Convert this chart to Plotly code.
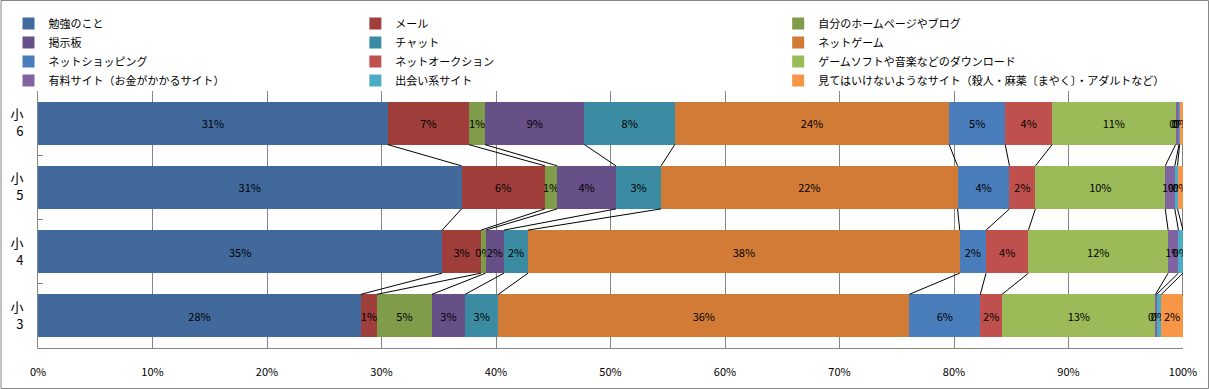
import plotly.graph_objects as go

categories = ["小3", "小4", "小5", "小6"]
tick_labels = ["小<br>3", "小<br>4", "小<br>5", "小<br>6"]

series_names = [
    "勉強のこと", "メール", "自分のホームページやブログ",
    "掲示板", "チャット", "ネットゲーム",
    "ネットショッピング", "ネットオークション", "ゲームソフトや音楽などのダウンロード",
    "有料サイト（お金がかかるサイト）", "出会い系サイト",
    "見てはいけないようなサイト（殺人・麻薬〔まやく〕・アダルトなど）",
]

# values per category: 小3, 小4, 小5, 小6
v_study = [28.2, 35.3, 31.0, 30.6]
v_mail = [1.4, 3.4, 6.1, 7.1]
v_homepage = [4.8, 0.4, 0.9, 1.4]
v_bbs = [2.9, 1.6, 4.3, 8.7]
v_chat = [2.9, 2.1, 3.3, 7.9]
v_netgame = [35.9, 37.7, 21.7, 24.0]
v_shopping = [6.2, 2.3, 3.8, 4.9]
v_auction = [1.9, 3.7, 1.9, 4.1]
v_download = [13.4, 12.2, 9.5, 10.8]
v_paid = [0.1, 0.9, 0.7, 0.3]
v_dating = [0.4, 0.4, 0.2, 0.05]
v_harmful = [1.9, 0.0, 0.4, 0.3]

series_values = [v_study, v_mail, v_homepage, v_bbs, v_chat, v_netgame,
                 v_shopping, v_auction, v_download, v_paid, v_dating, v_harmful]

colors = ["#41699C", "#9F3E3B", "#7F9C4A", "#674F87", "#3B8CA2", "#D17B37",
          "#4A7DBB", "#C0504D", "#9BBB59", "#8064A2", "#4BACC6", "#F79646"]

FONT = "Noto Sans CJK JP"
BARGAP = 0.33
ypos = list(range(len(categories)))

fig = go.Figure()
legends = ["legend", "legend2", "legend3"]
for i, (name, vals) in enumerate(zip(series_names, series_values)):
    fig.add_trace(go.Bar(
        y=ypos, x=vals, orientation="h", name=name,
        marker=dict(color=colors[i], line=dict(width=0)),
        text=[f"{round(v)}%" for v in vals],
        textposition="inside", insidetextanchor="middle", textangle=0,
        textfont=dict(family=FONT, size=11, color="#000000"),
        legend=legends[i % 3], legendgroup=f"g{i}",
        hoverinfo="name+x",
    ))

# series lines (connect segment ends between adjacent bars), computed from data
totals = [sum(s[c] for s in series_values) for c in range(len(categories))]
cum = []
for c in range(len(categories)):
    acc = 0.0
    row = []
    for s in series_values:
        acc += s[c] / totals[c] * 100
        row.append(acc)
    cum.append(row)
h = (1 - BARGAP) / 2
lx, ly = [], []
for c in range(len(categories) - 1, 0, -1):
    for k in range(len(series_values)):
        lx += [cum[c][k], cum[c - 1][k], None]
        ly += [ypos[c] - h, ypos[c - 1] + h, None]
fig.add_trace(go.Scatter(x=lx, y=ly, mode="lines", line=dict(color="#000000", width=1),
                         showlegend=False, hoverinfo="skip"))

ML, MR, MT, MB = 37.5, 26, 91, 41
W, H = 1209, 389
pw, ph = W - ML - MR, H - MT - MB

def px_x(p):
    return (p - ML) / pw

def px_y(p):
    return 1 - (p - MT) / ph

leg_common = dict(orientation="v", xanchor="left", yanchor="top", bgcolor="rgba(0,0,0,0)",
                  font=dict(family=FONT, size=11, color="#000000"), tracegroupgap=3,
                  itemwidth=30, traceorder="normal")
fig.update_layout(
    width=W, height=H,
    margin=dict(l=ML, r=MR, t=MT, b=MB, pad=0, autoexpand=False),
    paper_bgcolor="white", plot_bgcolor="white",
    barmode="stack", barnorm="percent", bargap=BARGAP,
    uniformtext=dict(minsize=11, mode="show"),
    showlegend=True,
    legend=dict(x=px_x(8), y=px_y(9), **leg_common),
    legend2=dict(x=px_x(355), y=px_y(9), **leg_common),
    legend3=dict(x=px_x(778), y=px_y(9), **leg_common),
    xaxis=dict(range=[0, 100], dtick=10, tick0=0, ticksuffix="%", showgrid=True,
               gridcolor="#868686", gridwidth=1, zeroline=False, showline=True,
               linecolor="#868686", linewidth=1, ticks="", ticklabelstandoff=14,
               automargin=False,
               tickfont=dict(family=FONT, size=11, color="#000000"), fixedrange=True),
    yaxis=dict(range=[-0.5, len(categories) - 0.5], tickmode="array", tickvals=ypos,
               ticktext=tick_labels, showgrid=False, zeroline=False, showline=True,
               linecolor="#868686", linewidth=1, ticks="", ticklabelstandoff=11,
               automargin=False,
               tickfont=dict(family=FONT, size=13, color="#000000"),
               minor=dict(tickmode="array", tickvals=[0.5, 1.5, 2.5], ticks="inside",
                          ticklen=5, tickcolor="#868686", showgrid=False),
               fixedrange=True),
    shapes=[dict(type="rect", xref="paper", yref="paper",
                 x0=px_x(0.5), x1=px_x(W - 0.5), y0=px_y(H - 0.5), y1=px_y(0.5),
                 line=dict(color="#868686", width=1), layer="below")],
)

fig.write_html("out.html", config={"displayModeBar": False},
               post_script="document.body.style.margin='0';document.body.style.overflow='hidden';")
